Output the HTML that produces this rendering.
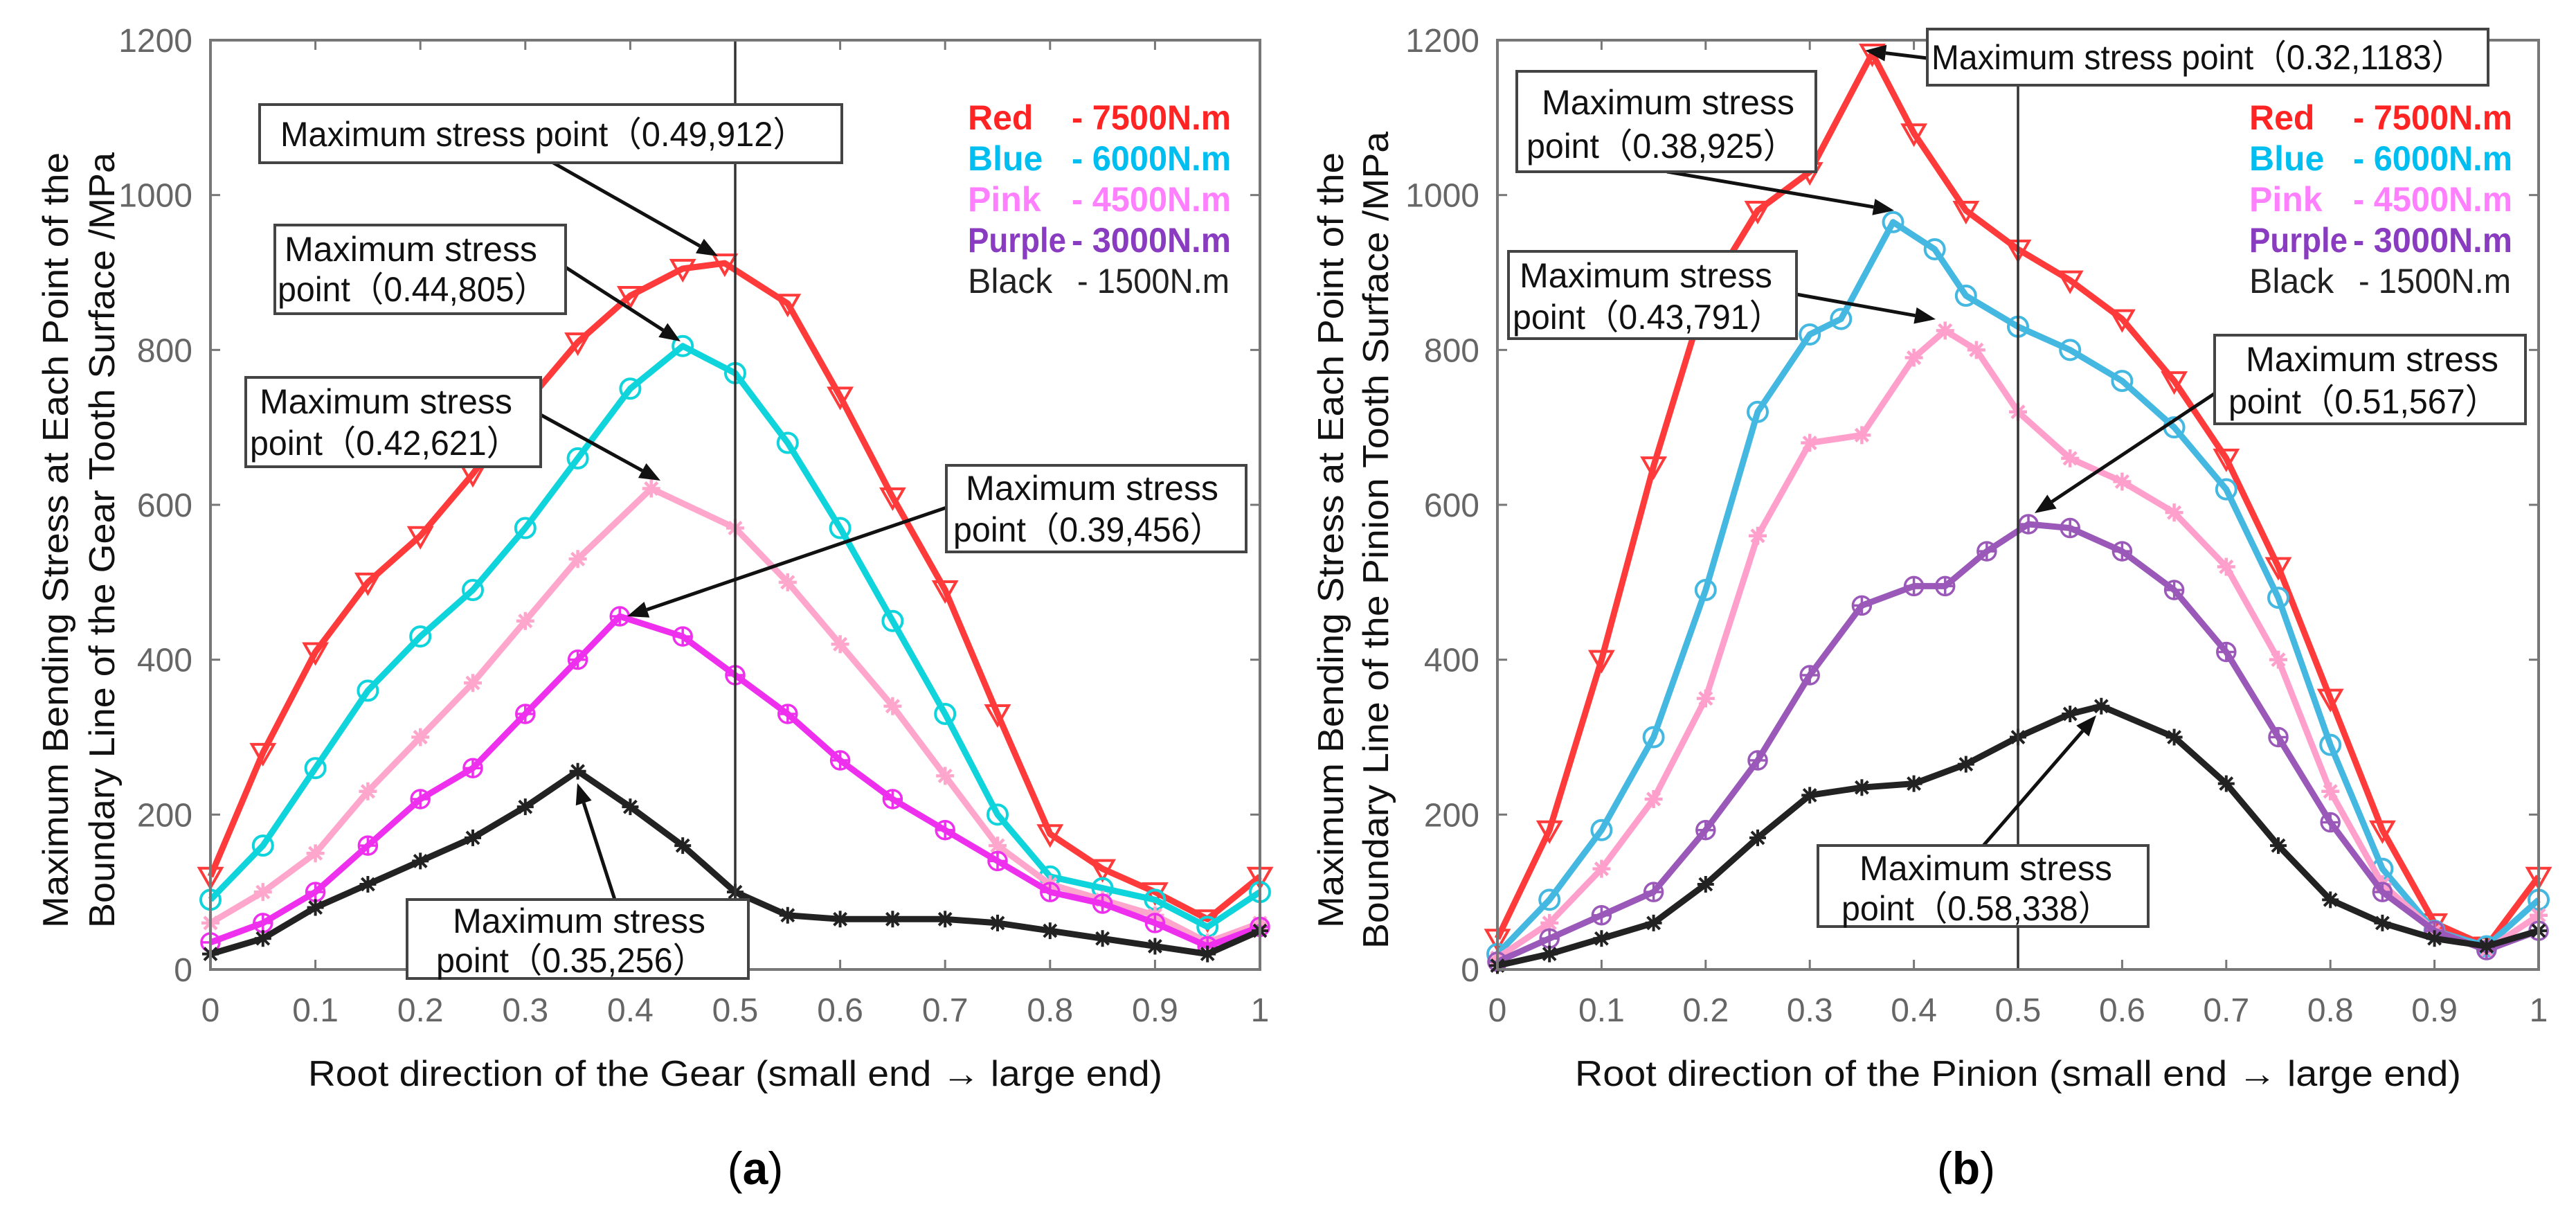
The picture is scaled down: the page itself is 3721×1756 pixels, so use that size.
<!DOCTYPE html>
<html><head><meta charset="utf-8"><style>
html,body{margin:0;padding:0;background:#fff;}
svg{display:block;}
text{font-family:"Liberation Sans","Noto Sans CJK SC",sans-serif;}
</style></head><body>
<svg id="fig" width="3721" height="1756" viewBox="0 0 3721 1756" xmlns="http://www.w3.org/2000/svg"></svg>
<script>
// ---- data: gear (a)
const gearRedX=[0,.05,.1,.15,.2,.25,.3,.35,.4,.45,.49,.55,.6,.65,.7,.75,.8,.85,.9,.95,1];
const gearRedY=[120,280,410,500,560,640,730,810,870,905,912,860,740,610,490,330,175,130,100,65,120];
const gearBlueX=[0,.05,.1,.15,.2,.25,.3,.35,.4,.45,.5,.55,.6,.65,.7,.75,.8,.85,.9,.95,1];
const gearBlueY=[90,160,260,360,430,490,570,660,750,805,770,680,570,450,330,200,120,105,90,55,100];
const gearPinkX=[0,.05,.1,.15,.2,.25,.3,.35,.42,.5,.55,.6,.65,.7,.75,.8,.85,.9,.95,1];
const gearPinkY=[60,100,150,230,300,370,450,530,621,570,500,420,340,250,160,110,90,70,35,60];
const gearPurpleX=[0,.05,.1,.15,.2,.25,.3,.35,.39,.45,.5,.55,.6,.65,.7,.75,.8,.85,.9,.95,1];
const gearPurpleY=[35,60,100,160,220,260,330,400,456,430,380,330,270,220,180,140,100,85,60,30,55];
const gearBlackX=[0,.05,.1,.15,.2,.25,.3,.35,.4,.45,.5,.55,.6,.65,.7,.75,.8,.85,.9,.95,1];
const gearBlackY=[20,40,80,110,140,170,210,256,210,160,100,70,65,65,65,60,50,40,30,20,50];
// ---- data: pinion (b)
const pinRedX=[0,.05,.1,.15,.2,.25,.3,.36,.4,.45,.5,.55,.6,.65,.7,.75,.8,.85,.9,.95,1];
const pinRedY=[40,180,400,650,870,980,1030,1183,1080,980,930,890,840,760,660,520,350,180,60,30,120];
const pinBlueX=[0,.05,.1,.15,.2,.25,.3,.33,.38,.42,.45,.5,.55,.6,.65,.7,.75,.8,.85,.9,.95,1];
const pinBlueY=[20,90,180,300,490,720,820,840,965,930,870,830,800,760,700,620,480,290,130,50,30,90];
const pinPinkX=[0,.05,.1,.15,.2,.25,.3,.35,.4,.43,.46,.5,.55,.6,.65,.7,.75,.8,.85,.9,.95,1];
const pinPinkY=[15,60,130,220,350,560,680,690,790,825,800,720,660,630,590,520,400,230,110,50,25,70];
const pinPurpleX=[0,.05,.1,.15,.2,.25,.3,.35,.4,.43,.47,.51,.55,.6,.65,.7,.75,.8,.85,.9,.95,1];
const pinPurpleY=[10,40,70,100,180,270,380,470,495,495,540,575,570,540,490,410,300,190,100,50,25,50];
const pinBlackX=[0,.05,.1,.15,.2,.25,.3,.35,.4,.45,.5,.55,.58,.65,.7,.75,.8,.85,.9,.95,1];
const pinBlackY=[5,20,40,60,110,170,225,235,240,265,300,330,340,300,240,160,90,60,40,30,50];
const xTicks=[0,0.1,0.2,0.3,0.4,0.5,0.6,0.7,0.8,0.9,1];
const xTickLabels=["0","0.1","0.2","0.3","0.4","0.5","0.6","0.7","0.8","0.9","1"];
const yTicks=[0,200,400,600,800,1000,1200];
const yTickLabels=["0","200","400","600","800","1000","1200"];
const legendNames=["Red","Blue","Pink","Purple","Black"];
const legendLoads=["- 7500N.m","- 6000N.m","- 4500N.m","- 3000N.m","- 1500N.m"];

const NS="http://www.w3.org/2000/svg";
const svg=document.getElementById('fig');
function mk(tag,attrs,parent){const e=document.createElementNS(NS,tag);for(const k in attrs)e.setAttribute(k,attrs[k]);(parent||svg).appendChild(e);return e;}

function marker(g,type,cx,cy,col){
  let e;
  if(type==='tri'){e=mk('polygon',{points:`${cx-16},${cy-12} ${cx+16},${cy-12} ${cx},${cy+16}`,fill:'none',stroke:col,'stroke-width':4},g);}
  else if(type==='circ'){e=mk('circle',{cx:cx,cy:cy,r:14,fill:'none',stroke:col,'stroke-width':4},g);}
  else if(type==='star'){e=mk('path',{d:`M${cx-13} ${cy}H${cx+13}M${cx} ${cy-13}V${cy+13}M${cx-9} ${cy-9}L${cx+9} ${cy+9}M${cx-9} ${cy+9}L${cx+9} ${cy-9}`,fill:'none',stroke:col,'stroke-width':4.5},g);}
  else if(type==='sq'){e=mk('path',{d:`M${cx-13} ${cy}H${cx+13}M${cx} ${cy-13}V${cy+13}`,fill:'none',stroke:col,'stroke-width':3.5},g);mk('circle',{cx:cx,cy:cy,r:13,fill:'none',stroke:col,'stroke-width':3.5},g);}
  else {e=mk('path',{d:`M${cx-12} ${cy}H${cx+12}M${cx} ${cy-12}V${cy+12}M${cx-9} ${cy-9}L${cx+9} ${cy+9}M${cx-9} ${cy+9}L${cx+9} ${cy-9}`,fill:'none',stroke:col,'stroke-width':4},g);}
  
  
}

function chart(cfg){
  const sx=v=>cfg.x0+(cfg.x1-cfg.x0)*v;
  const sy=v=>cfg.y0-(cfg.y0-cfg.y1)*v/1200;
  const g=mk('g',{});
  
  
  xTicks.forEach((t,i)=>{
    const X=sx(t);
    mk('line',{x1:X,y1:cfg.y0,x2:X,y2:cfg.y0-14,stroke:'#777','stroke-width':3},g);
    mk('line',{x1:X,y1:cfg.y1,x2:X,y2:cfg.y1+14,stroke:'#777','stroke-width':3},g);
    const tx=mk('text',{x:X,y:cfg.y0+75,'font-size':48,fill:'#666','text-anchor':'middle'},g);
    tx.textContent=xTickLabels[i];
    
    
  });
  yTicks.forEach((t,i)=>{
    const Y=sy(t);
    mk('line',{x1:cfg.x0,y1:Y,x2:cfg.x0+14,y2:Y,stroke:'#777','stroke-width':3},g);
    mk('line',{x1:cfg.x1,y1:Y,x2:cfg.x1-14,y2:Y,stroke:'#777','stroke-width':3},g);
    const tx=mk('text',{x:cfg.x0-26,y:Y+17,'font-size':48,fill:'#666','text-anchor':'end'},g);
    tx.textContent=yTickLabels[i];
    
    
  });
  cfg.series.forEach(s=>{
    const sg=mk('g',{},g);
    
    
    const pts=s.x.map((v,i)=>sx(v)+','+sy(s.y[i])).join(' ');
    const pl=mk('polyline',{points:pts,fill:'none',stroke:s.col,'stroke-width':9,'stroke-linejoin':'round'},sg);
    
    
    s.x.forEach((v,i)=>marker(sg,s.m,sx(v),sy(s.y[i]),s.col));
  });
  const vl=mk('line',{x1:sx(0.5),y1:cfg.y0,x2:sx(0.5),y2:cfg.y1,stroke:'#333','stroke-width':3.5},g);
  
  
  const fr=mk('rect',{x:cfg.x0,y:cfg.y1,width:cfg.x1-cfg.x0,height:cfg.y0-cfg.y1,fill:'none',stroke:'#777','stroke-width':4},g);
  
  
  legendNames.forEach((n,i)=>{
    const y=cfg.legY+i*59;
    const na={x:cfg.legX,y:y,'font-size':50,fill:cfg.legCols[i],'font-weight':i<4?'bold':'normal'};
    if(i===3){na.textLength=142;na.lengthAdjust='spacingAndGlyphs';}
    const a=mk('text',na,g);
    a.textContent=n;
    
    
    const b=mk('text',{x:cfg.legX+150+(i===4?8:0),y:y,'font-size':50,fill:cfg.legCols[i],'font-weight':i<4?'bold':'normal',textLength:i===4?220:230,lengthAdjust:'spacingAndGlyphs'},g);
    b.textContent=legendLoads[i];
    
    
  });
  cfg.ann.forEach(a=>{
    const ag=mk('g',{},g);
    
    
    const dx=a.ax2-a.ax1, dy=a.ay2-a.ay1, L=Math.hypot(dx,dy), ux=dx/L, uy=dy/L;
    const hx=a.ax2-ux*30, hy=a.ay2-uy*30;
    mk('line',{x1:a.ax1,y1:a.ay1,x2:hx,y2:hy,stroke:'#111','stroke-width':5},ag);
    mk('polygon',{points:`${a.ax2},${a.ay2} ${hx-uy*12},${hy+ux*12} ${hx+uy*12},${hy-ux*12}`,fill:'#111'},ag);
    mk('rect',{x:a.bx,y:a.by,width:a.bw,height:a.bh,fill:'#fff',stroke:'#444','stroke-width':4},ag);
    a.lines.forEach((t,i)=>{
      const tt=mk('text',{x:a.bx+a.tx[i],y:a.by+a.ty[i],'font-size':50,fill:'#111',textLength:a.tl[i],lengthAdjust:'spacingAndGlyphs'},ag);
      tt.textContent=t;
    });
  });
  const xt=mk('text',{x:(cfg.x0+cfg.x1)/2,y:cfg.y0+168,'font-size':52,fill:'#111','text-anchor':'middle',textLength:cfg.xtl,lengthAdjust:'spacingAndGlyphs'},g);
  xt.textContent=cfg.xtitle;
  
  
  cfg.ytitle.forEach((t,i)=>{
    const cx=cfg.ytx[i], cy=cfg.yty;
    const yt=mk('text',{x:cx,y:cy,'font-size':52,fill:'#111','text-anchor':'middle',transform:`rotate(-90 ${cx} ${cy})`,textLength:cfg.ytl[i],lengthAdjust:'spacingAndGlyphs'},g);
    yt.textContent=t;
    
    
  });
  const lab=mk('text',{x:cfg.labX,y:1710,'font-size':66,fill:'#000','text-anchor':'middle','font-family':'Liberation Serif, serif'},g);
  lab.innerHTML='(<tspan font-weight="bold">'+cfg.lab+'</tspan>)';
  
  
}

chart({name:'chart-gear',x0:304,x1:1820,y0:1400,y1:58,legX:1398,legY:187,
  legCols:['#ff2424','#00bff0','#ff80ff','#8a3cc0','#222'],
  series:[
    {name:'series-red-7500',x:gearRedX,y:gearRedY,col:'#ff3a3a',m:'tri'},
    {name:'series-blue-6000',x:gearBlueX,y:gearBlueY,col:'#10d4dc',m:'circ'},
    {name:'series-pink-4500',x:gearPinkX,y:gearPinkY,col:'#ffa6cc',m:'star'},
    {name:'series-purple-3000',x:gearPurpleX,y:gearPurpleY,col:'#ee30ee',m:'sq'},
    {name:'series-black-1500',x:gearBlackX,y:gearBlackY,col:'#222',m:'ast'}],
  ann:[
    {bx:375,by:151,bw:841,bh:84,lines:['Maximum stress point（0.49,912）'],tx:[30],ty:[60],tl:[760],ax1:799,ay1:235,ax2:1037,ay2:370},
    {bx:397,by:325,bw:420,bh:128,lines:['Maximum stress','point（0.44,805）'],tx:[14,4],ty:[52,110],tl:[365,390],ax1:817,ay1:386,ax2:983,ay2:493},
    {bx:355,by:545,bw:426,bh:129,lines:['Maximum stress','point（0.42,621）'],tx:[20,6],ty:[52,112],tl:[365,390],ax1:781,ay1:599,ax2:954,ay2:694},
    {bx:1367,by:672,bw:433,bh:125,lines:['Maximum stress','point（0.39,456）'],tx:[28,10],ty:[50,110],tl:[365,390],ax1:1367,ay1:733,ax2:906,ay2:890},
    {bx:588,by:1299,bw:493,bh:114,lines:['Maximum stress','point（0.35,256）'],tx:[66,42],ty:[48,105],tl:[365,390],ax1:888,ay1:1299,ax2:834,ay2:1131}],
  xtitle:'Root direction of the Gear (small end → large end)',xtl:1234,
  ytitle:['Maximum Bending Stress at Each Point of the','Boundary Line of the Gear Tooth Surface /MPa'],ytx:[98,165],yty:780,ytl:[1120,1120],
  labX:1091,lab:'a'});

chart({name:'chart-pinion',x0:2163,x1:3667,y0:1400,y1:58,legX:3249,legY:187,
  legCols:['#ff2424','#00bff0','#ff80ff','#8a3cc0','#222'],
  series:[
    {name:'series-red-7500',x:pinRedX,y:pinRedY,col:'#ff3a3a',m:'tri'},
    {name:'series-blue-6000',x:pinBlueX,y:pinBlueY,col:'#44b8e0',m:'circ'},
    {name:'series-pink-4500',x:pinPinkX,y:pinPinkY,col:'#ffa0cc',m:'star'},
    {name:'series-purple-3000',x:pinPurpleX,y:pinPurpleY,col:'#9a58b8',m:'sq'},
    {name:'series-black-1500',x:pinBlackX,y:pinBlackY,col:'#222',m:'ast'}],
  ann:[
    {bx:2784,by:42,bw:810,bh:81,lines:['Maximum stress point（0.32,1183）'],tx:[6],ty:[58],tl:[770],ax1:2784,ay1:84,ax2:2694,ay2:73},
    {bx:2191,by:103,bw:432,bh:145,lines:['Maximum stress','point（0.38,925）'],tx:[36,14],ty:[62,125],tl:[365,390],ax1:2408,ay1:248,ax2:2736,ay2:304},
    {bx:2179,by:363,bw:416,bh:126,lines:['Maximum stress','point（0.43,791）'],tx:[16,6],ty:[52,112],tl:[365,390],ax1:2595,ay1:425,ax2:2796,ay2:461},
    {bx:3199,by:484,bw:449,bh:128,lines:['Maximum stress','point（0.51,567）'],tx:[45,20],ty:[52,113],tl:[365,390],ax1:3237,ay1:543,ax2:2939,ay2:741},
    {bx:2626,by:1221,bw:477,bh:117,lines:['Maximum stress','point（0.58,338）'],tx:[60,34],ty:[50,108],tl:[365,390],ax1:2865,ay1:1221,ax2:3028,ay2:1033}],
  xtitle:'Root direction of the Pinion (small end → large end)',xtl:1280,
  ytitle:['Maximum Bending Stress at Each Point of the','Boundary Line of the Pinion Tooth Surface /MPa'],ytx:[1940,2005],yty:780,ytl:[1120,1180],
  labX:2840,lab:'b'});
</script>
</body></html>
